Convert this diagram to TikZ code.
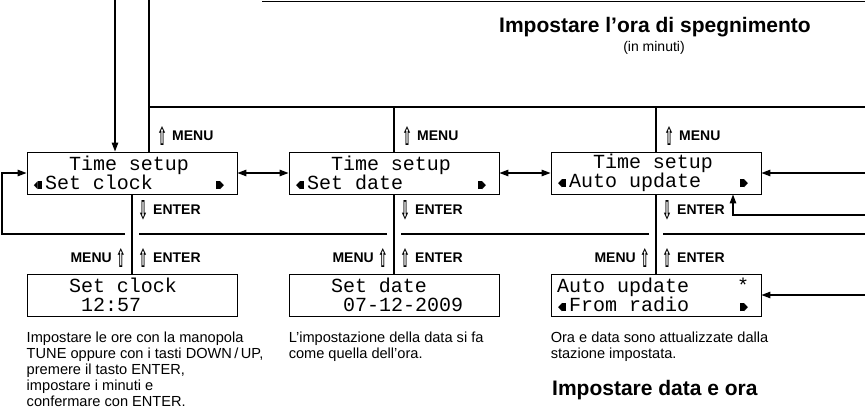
\documentclass[tikz,border=0pt]{standalone}
\usepackage{fontspec}
\setmainfont{Liberation Sans}
\newfontfamily\lcdfont{Liberation Mono}
\newfontfamily\symfont{DejaVu Sans}
\usetikzlibrary{arrows.meta,positioning,calc}

\newcommand\upar{\raisebox{-5pt}{\resizebox{10pt}{19pt}{\symfont ⇧}}}
\newcommand\dnar{\raisebox{-5pt}{\resizebox{10pt}{19pt}{\symfont ⇩}}}
\newcommand\lcdgap[1]{\hspace*{#1\dimexpr12pt\relax}}
\newcommand\lcdl{\makebox[12pt][l]{\hspace{1pt}\raisebox{1pt}{\resizebox{4pt}{7pt}{\symfont ◀}}\rule[0.5pt]{4pt}{8pt}}}
\newcommand\lcdr{\makebox[12pt][r]{\rule[0.5pt]{4pt}{8pt}\raisebox{1pt}{\resizebox{4pt}{7pt}{\symfont ▶}}\hspace{1pt}}}

\begin{document}
\begin{tikzpicture}[x=1pt,y=-1pt,
  lcd/.style={draw,line width=0.9pt,minimum width=210pt,minimum height=42pt,
    inner sep=0pt,text width=198pt,align=left,
    font=\lcdfont\fontsize{20}{19}\selectfont},
  lbl/.style={inner sep=0pt,font=\bfseries\fontsize{14}{14}\selectfont},
  desc/.style={inner sep=0pt,align=left,font=\fontsize{14.6}{16}\selectfont},
  conn/.style={line width=1.3pt},
  arr/.style={conn,-{Triangle[length=9pt,width=6.5pt]}},
  dblarr/.style={conn,{Triangle[length=9pt,width=6.5pt]}-{Triangle[length=9pt,width=6.5pt]}}]
  \useasboundingbox (0,0) rectangle (865,410);

  % displays
  \node[lcd] (b1) at (132,173) {\lcdgap{3}Time\lcdgap{1}setup\\\lcdl Set\lcdgap{1}clock\lcdgap{5}\lcdr};
  \node[lcd] (b2) at (394,173) {\lcdgap{3}Time\lcdgap{1}setup\\\lcdl Set\lcdgap{1}date\lcdgap{6}\lcdr};
  \node[lcd] (b3) at (656,173) {\lcdgap{3}Time\lcdgap{1}setup\\\lcdl Auto\lcdgap{1}update\lcdgap{3}\lcdr};
  \node[lcd] (b4) at (132,295) {\lcdgap{3}Set\lcdgap{1}clock\\\lcdgap{4}12:57};
  \node[lcd] (b5) at (394,295) {\lcdgap{3}Set\lcdgap{1}date\\\lcdgap{4}07-12-2009};
  \node[lcd] (b6) at (656,295) {Auto\lcdgap{1}update\lcdgap{4}*\\\lcdl From\lcdgap{1}radio\lcdgap{4}\lcdr};

  % free ends
  \coordinate (in1) at (115,0);   \coordinate (m1) at (149,0);
  \coordinate (bus) at (149,107); \coordinate (busend) at (865,107);
  \coordinate (topa) at (262,1.2); \coordinate (topb) at (865,1.2);
  \coordinate (r1) at (865,173);  \coordinate (r2) at (865,215);
  \coordinate (r2c) at (733,215); \coordinate (r3) at (865,295);
  \coordinate (lp) at (865,234);  \coordinate (lpl) at (2,234);

  \draw[conn] (topa) -- (topb);
  \draw[arr] (in1) -- (in1 |- b1.north);
  \draw[conn] (m1) -- (m1 |- b1.north);
  \draw[conn] (bus) -- (busend);
  \draw[conn] (b2.north |- bus) -- (b2.north);
  \draw[conn] (b3.north |- bus) -- (b3.north);

  \draw[dblarr] (b1) -- (b2);
  \draw[dblarr] (b2) -- (b3);
  \draw[arr] (r1) -- (b3.east);
  \draw[arr] (r2) -- (r2c) -- (r2c |- b3.south);
  \draw[arr] (r3) -- (b6.east);

  \draw[conn] (b1) -- (b4);
  \draw[conn] (b2) -- (b5);
  \draw[conn] (b3) -- (b6);

  % return line, broken where it passes the verticals
  \draw[conn] (lp) -- ($(b3.south |- lp)+(7,0)$);
  \draw[conn] ($(b3.south |- lp)+(-7,0)$) -- ($(b2.south |- lp)+(7,0)$);
  \draw[conn] ($(b2.south |- lp)+(-7,0)$) -- ($(b1.south |- lp)+(7,0)$);
  \draw[arr] ($(b1.south |- lp)+(-7,0)$) -- (lpl) -- (lpl |- b1.west) -- (b1.west);

  % key labels
  \node[lbl,anchor=west] (mu1) at ($(m1 |- b1.north)+(8,-16)$) {\upar\hspace{5pt}MENU};
  \node[lbl,anchor=west] (mu2) at ($(b2.north)+(8,-16)$) {\upar\hspace{5pt}MENU};
  \node[lbl,anchor=west] (mu3) at ($(b3.north)+(8,-16)$) {\upar\hspace{5pt}MENU};
  \foreach \b/\c in {b1/b4,b2/b5,b3/b6}{
    \node[lbl,anchor=west] at ($(\b.south)+(6,16)$) {\dnar\hspace{5pt}ENTER};
    \node[lbl,anchor=east] at ($(\c.north)+(-6,-16)$) {MENU\hspace{4pt}\upar};
    \node[lbl,anchor=west] at ($(\c.north)+(6,-16)$) {\upar\hspace{5pt}ENTER};
  }

  % notes
  \node[desc,anchor=north west] (d4) at ($(b4.south west)+(0,15)$)
    {Impostare le ore con la manopola\\TUNE oppure con i tasti DOWN\,/\,UP,\\
     premere il tasto ENTER,\\impostare i minuti e\\confermare con ENTER.};
  \node[desc,anchor=north west] (d5) at ($(b5.south west)+(0,15)$)
    {L’impostazione della data si fa\\come quella dell’ora.};
  \node[desc,anchor=north west] (d6) at ($(b6.south west)+(0,15)$)
    {Ora e data sono attualizzate dalla\\stazione impostata.};

  % headings
  \node[font=\bfseries\fontsize{21}{21}\selectfont] (t1) at (655,27) {Impostare l’ora di spegnimento};
  \node[font=\fontsize{14}{14}\selectfont,inner sep=0pt] (t1s) at (654,48) {(in minuti)};
  \node[font=\bfseries\fontsize{21}{21}\selectfont,anchor=west,inner sep=0pt] (t2) at (552,390) {Impostare data e ora};
\end{tikzpicture}
\end{document}
